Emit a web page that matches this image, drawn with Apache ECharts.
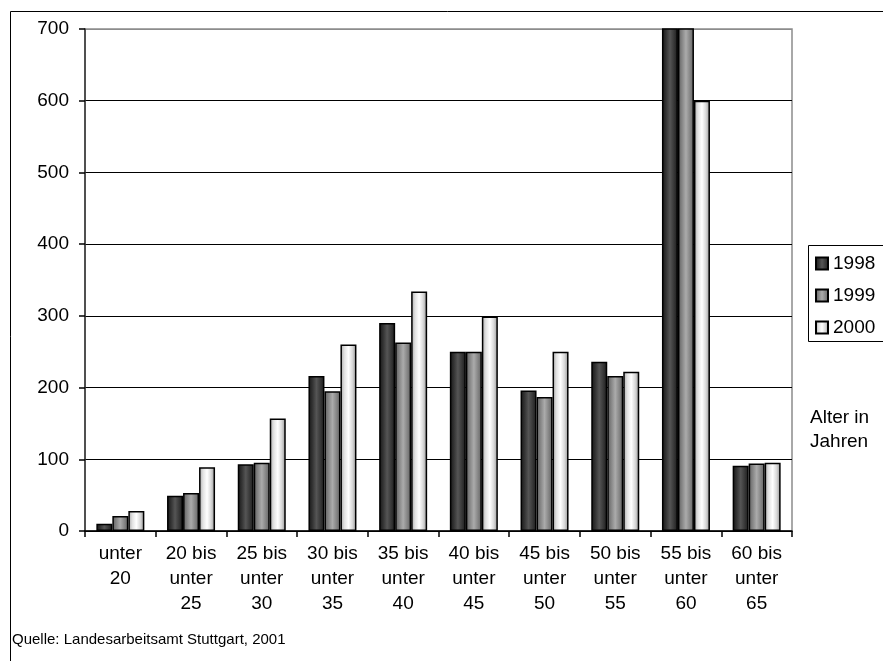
<!DOCTYPE html>
<html>
<head>
<meta charset="utf-8">
<script src="https://cdn.jsdelivr.net/npm/echarts@6/dist/echarts.min.js"></script>
<style>html,body{margin:0;padding:0;background:#fff;}#c{width:883px;height:661px;}</style>
</head>
<body>
<div id="c"></div>
<script>
const categories = ['unter\n20','20 bis\nunter\n25','25 bis\nunter\n30','30 bis\nunter\n35','35 bis\nunter\n40','40 bis\nunter\n45','45 bis\nunter\n50','50 bis\nunter\n55','55 bis\nunter\n60','60 bis\nunter\n65'];
const seriesNames = ['1998','1999','2000'];
const values1998 = [10, 49, 93, 216, 290, 250, 196, 236, 760, 91];
const values1999 = [21, 53, 95, 195, 263, 250, 187, 216, 760, 94];
const values2000 = [28, 89, 157, 260, 334, 299, 250, 222, 600, 95];
const yTicks = [0, 100, 200, 300, 400, 500, 600, 700];

const FONT = '"Liberation Sans", Arial, sans-serif';
function grad(stops){
  return {type:'linear', x:0, y:0, x2:1, y2:0, colorStops: stops.map((c,i)=>({offset:i/(stops.length-1), color:c}))};
}
const fills = [
  grad(['#151515','#333333','#555555','#383838','#1a1a1a']),
  grad(['#5e5e5e','#858585','#ababab','#868686','#626262']),
  grad(['#a8a8a8','#e2e2e2','#ffffff','#d8d8d8','#939393'])
];
const allValues = [values1998, values1999, values2000];

const chart = echarts.init(document.getElementById('c'));
chart.setOption({
  animation: false,
  backgroundColor: '#fff',
  grid: {left: 85, right: 91, top: 29, bottom: 130, show: true, borderColor: '#8c8c8c', borderWidth: 1.5, containLabel: false},
  legend: {
    data: seriesNames, orient: 'vertical', left: 815, top: 254, padding: 0,
    itemWidth: 12, itemHeight: 12, itemGap: 13,
    textStyle: {fontFamily: FONT, fontSize: 19, color: '#000', lineHeight: 19},
    icon: 'rect'
  },
  xAxis: {
    type: 'category', data: categories,
    axisLine: {lineStyle: {color: '#000', width: 1.5}},
    axisTick: {show: true, length: 6, lineStyle: {color: '#000', width: 1.5}},
    axisLabel: {fontFamily: FONT, fontSize: 19, color: '#000', lineHeight: 25, margin: 10, interval: 0}
  },
  yAxis: {
    type: 'value', min: 0, max: 700, interval: 100,
    axisLine: {show: true, lineStyle: {color: '#333', width: 1.5}},
    axisTick: {show: true, length: 6, lineStyle: {color: '#000', width: 1.5}},
    axisLabel: {fontFamily: FONT, fontSize: 19, color: '#000', margin: 16, formatter: v => yTicks.includes(v) ? String(v) : ''},
    splitLine: {show: true, lineStyle: {color: ['#000','#000','#000','#000','#000','#000','#000','#8c8c8c'], width: 1.2}}
  },
  series: allValues.map((vals, i) => ({
    name: seriesNames[i], type: 'bar', data: vals,
    barWidth: 16, barGap: '0%',
    clip: true,
    itemStyle: {color: fills[i], borderColor: '#000', borderWidth: 1.5}
  })),
  graphic: [
    {type: 'rect', shape: {x: 10.5, y: 11.5, width: 900, height: 700}, style: {fill: 'none', stroke: '#000', lineWidth: 1}, silent: true, z: 100},
    {type: 'rect', shape: {x: 808.5, y: 245.5, width: 100, height: 96}, style: {fill: 'none', stroke: '#000', lineWidth: 1}, silent: true, z: 100},
    {type: 'text', left: 810, top: 406, style: {text: 'Alter in\nJahren', font: '19px ' + FONT, fill: '#000', lineHeight: 24}},
    {type: 'text', left: 12, top: 632, style: {text: 'Quelle: Landesarbeitsamt Stuttgart, 2001', font: '15px ' + FONT, fill: '#000'}}
  ]
});
</script>
</body>
</html>
